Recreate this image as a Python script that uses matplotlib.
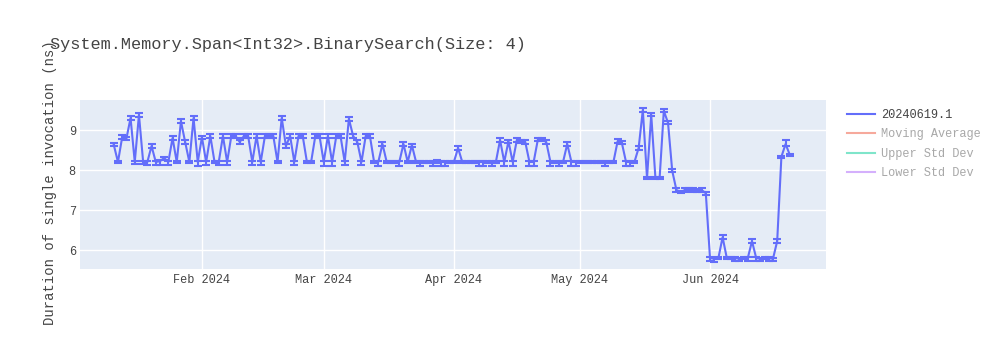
import matplotlib
matplotlib.use("Agg")
import matplotlib.pyplot as plt
import matplotlib.dates as mdates
from matplotlib.lines import Line2D
import numpy as np
import pandas as pd

TITLE = "System.Memory.Span<Int32>.BinarySearch(Size: 4)"
YLABEL = "Duration of single invocation (ns)"
series_name = "20240619.1"
legend_only = ["Moving Average", "Upper Std Dev", "Lower Std Dev"]
legend_only_colors = ["#EF553B", "#00CC96", "#AB63FA"]
start_date = "2024-01-11"

jan = [8.63, 8.2, 8.82, 8.78, 9.3, 8.2, 9.38, 8.2, 8.2, 8.6, 8.2, 8.22, 8.3, 8.2, 8.8, 8.2, 9.22, 8.7, 8.2, 9.3, 8.2]
jan_hi = [0.05, 0.02, 0.05, 0.05, 0.06, 0.02, 0.05, 0.02, 0.02, 0.06, 0.02, 0.02, 0.03, 0.02, 0.05, 0.02, 0.05, 0.05, 0.02, 0.05, 0.02]
jan_lo = [0.04, 0.03, 0.04, 0.04, 0.05, 0.05, 0.05, 0.06, 0.08, 0.05, 0.08, 0.1, 0.05, 0.08, 0.05, 0.03, 0.05, 0.05, 0.03, 0.05, 0.1]

feb = [8.82, 8.2, 8.85, 8.2, 8.2, 8.85, 8.2, 8.85, 8.85, 8.7, 8.85, 8.85, 8.2, 8.85, 8.2, 8.85, 8.85, 8.85, 8.2, 9.3, 8.6, 8.85, 8.2, 8.85, 8.85, 8.2, 8.2, 8.85, 8.85]
feb_hi = [0.04, 0.02, 0.04, 0.02, 0.02, 0.04, 0.02, 0.04, 0.04, 0.04, 0.04, 0.04, 0.02, 0.04, 0.02, 0.04, 0.04, 0.04, 0.02, 0.06, 0.04, 0.04, 0.02, 0.04, 0.04, 0.02, 0.02, 0.04, 0.04]
feb_lo = [0.04, 0.08, 0.04, 0.03, 0.08, 0.04, 0.08, 0.04, 0.04, 0.04, 0.04, 0.04, 0.08, 0.04, 0.08, 0.04, 0.04, 0.04, 0.03, 0.05, 0.04, 0.04, 0.08, 0.04, 0.04, 0.03, 0.03, 0.04, 0.04]

mar = [8.2, 8.85, 8.2, 8.85, 8.85, 8.2, 9.28, 8.85, 8.7, 8.2, 8.85, 8.85, 8.2, 8.2, 8.65, 8.2, 8.2, 8.2, 8.2, 8.65, 8.2, 8.62, 8.2, 8.2, 8.2, 8.2, 8.2, 8.22, 8.2, 8.2, 8.2]
mar_hi = [0.02, 0.04, 0.02, 0.04, 0.04, 0.02, 0.05, 0.04, 0.04, 0.02, 0.04, 0.04, 0.02, 0.02, 0.04, 0.02, 0.02, 0.02, 0.02, 0.04, 0.02, 0.04, 0.02, 0.02, 0.02, 0.02, 0.02, 0.03, 0.02, 0.02, 0.02]
mar_lo = [0.1, 0.04, 0.1, 0.04, 0.04, 0.08, 0.05, 0.04, 0.04, 0.08, 0.04, 0.04, 0.03, 0.1, 0.04, 0.03, 0.03, 0.03, 0.1, 0.04, 0.03, 0.04, 0.03, 0.1, 0.03, 0.03, 0.1, 0.05, 0.1, 0.1, 0.03]

apr = [8.2, 8.55, 8.2, 8.2, 8.2, 8.2, 8.2, 8.2, 8.2, 8.2, 8.2, 8.75, 8.2, 8.72, 8.2, 8.75, 8.72, 8.7, 8.2, 8.2, 8.76, 8.76, 8.7, 8.2, 8.2, 8.2, 8.2, 8.65, 8.2, 8.2]
apr_hi = [0.02, 0.04, 0.02, 0.02, 0.02, 0.02, 0.02, 0.02, 0.02, 0.02, 0.02, 0.04, 0.02, 0.04, 0.02, 0.04, 0.04, 0.04, 0.02, 0.02, 0.04, 0.04, 0.04, 0.02, 0.02, 0.02, 0.02, 0.04, 0.02, 0.02]
apr_lo = [0.03, 0.04, 0.03, 0.03, 0.03, 0.03, 0.1, 0.1, 0.03, 0.1, 0.03, 0.04, 0.1, 0.04, 0.1, 0.04, 0.04, 0.04, 0.1, 0.1, 0.04, 0.04, 0.04, 0.1, 0.03, 0.1, 0.03, 0.04, 0.1, 0.1]

may = [8.2, 8.2, 8.2, 8.2, 8.2, 8.2, 8.2, 8.2, 8.2, 8.72, 8.68, 8.2, 8.2, 8.2, 8.55, 9.5, 7.8, 9.38, 7.8, 7.8, 9.48, 9.18, 7.98, 7.5, 7.45, 7.5, 7.5, 7.5, 7.48, 7.5, 7.42]
may_hi = [0.02, 0.02, 0.02, 0.02, 0.02, 0.02, 0.02, 0.02, 0.02, 0.05, 0.04, 0.02, 0.02, 0.02, 0.06, 0.05, 0.02, 0.04, 0.02, 0.02, 0.04, 0.04, 0.04, 0.04, 0.02, 0.04, 0.04, 0.04, 0.04, 0.04, 0.04]
may_lo = [0.03, 0.03, 0.03, 0.03, 0.03, 0.03, 0.1, 0.03, 0.03, 0.04, 0.04, 0.1, 0.1, 0.03, 0.04, 0.05, 0.03, 0.04, 0.03, 0.03, 0.04, 0.04, 0.04, 0.06, 0.02, 0.06, 0.02, 0.06, 0.03, 0.06, 0.04]

jun = [5.8, 5.78, 5.8, 6.32, 5.8, 5.8, 5.8, 5.78, 5.8, 5.8, 6.22, 5.8, 5.78, 5.8, 5.8, 5.78, 6.22, 8.33, 8.65, 8.38]
jun_hi = [0.02, 0.02, 0.02, 0.06, 0.02, 0.02, 0.02, 0.02, 0.02, 0.02, 0.05, 0.02, 0.02, 0.02, 0.02, 0.02, 0.05, 0.03, 0.1, 0.03]
jun_lo = [0.08, 0.08, 0.03, 0.04, 0.03, 0.03, 0.08, 0.06, 0.03, 0.08, 0.04, 0.08, 0.06, 0.03, 0.08, 0.06, 0.04, 0.03, 0.05, 0.03]

values = jan + feb + mar + apr + may + jun
err_hi = jan_hi + feb_hi + mar_hi + apr_hi + may_hi + jun_hi
err_lo = jan_lo + feb_lo + mar_lo + apr_lo + may_lo + jun_lo
dates = pd.date_range(start_date, periods=len(values), freq="D")

FONT = ["Liberation Mono", "DejaVu Sans Mono"]
plt.rcParams["font.family"] = FONT
TXT = "#444444"
BLUE = "#636EFA"

fig = plt.figure(figsize=(10, 3.5), dpi=100)
ax = fig.add_axes([0.080, 1 - 269 / 350, 0.746, 169 / 350])
ax.set_facecolor("#E5ECF6")
for s in ax.spines.values():
    s.set_visible(False)
ax.grid(True, color="white", linewidth=1.0)
ax.set_axisbelow(True)

ax.errorbar(dates, values, yerr=[err_lo, err_hi], color=BLUE, ecolor=BLUE,
            linewidth=1.5, elinewidth=1.5, capsize=3, capthick=1.5, zorder=3)

ax.set_xlim(pd.Timestamp("2024-01-02 23:00"), pd.Timestamp("2024-06-28 15:00"))
ax.set_ylim(5.525, 9.75)
ax.set_yticks([6, 7, 8, 9])
ax.xaxis.set_major_locator(mdates.MonthLocator(bymonth=[2, 3, 4, 5, 6]))
ax.xaxis.set_major_formatter(mdates.DateFormatter("%b %Y"))
ax.tick_params(axis="both", length=0, labelsize=8.6, labelcolor=TXT)
ax.tick_params(axis="x", pad=3.5)
ax.tick_params(axis="y", pad=3)

fig.text(0.05, 1 - 45 / 350, TITLE, fontsize=12.2, color=TXT, ha="left", va="center")
fig.text(0.05, 1 - 183 / 350, YLABEL, fontsize=10, color=TXT, rotation=90,
         ha="center", va="center")

handles = [Line2D([], [], color=BLUE, linewidth=1.5)]
for c in legend_only_colors:
    handles.append(Line2D([], [], color=c, linewidth=1.5, alpha=0.5))
leg = fig.legend(handles, [series_name] + legend_only, loc="upper left",
                 bbox_to_anchor=(0.847, 1 - 109 / 350), frameon=False,
                 fontsize=8.6, handlelength=2.35, handletextpad=0.5,
                 labelspacing=0.62, borderaxespad=0, borderpad=0)
for i, t in enumerate(leg.get_texts()):
    t.set_color(TXT if i == 0 else "#A8A8A8")

fig.savefig("out.png", dpi=100, facecolor="white")
